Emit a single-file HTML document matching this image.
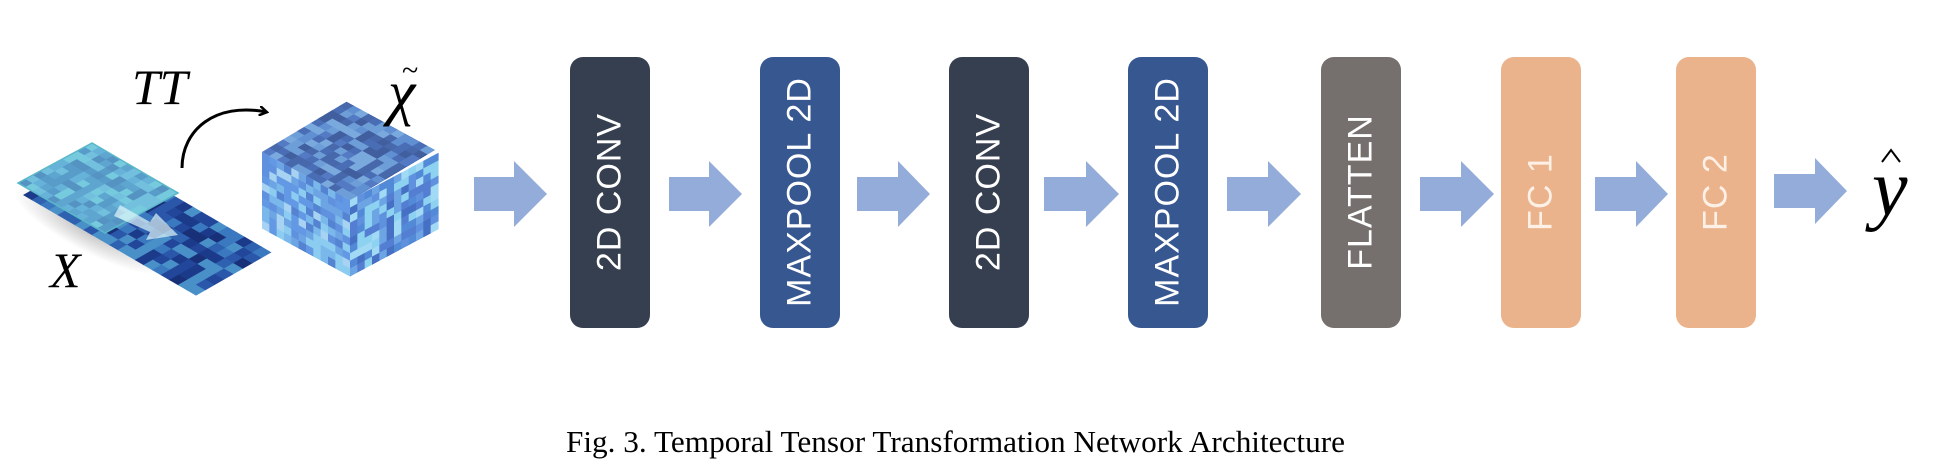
<!DOCTYPE html>
<html><head><meta charset="utf-8">
<style>
html,body{margin:0;padding:0;background:#fff;}
body{width:1948px;height:474px;position:relative;overflow:hidden;}
.box{position:absolute;top:57px;width:80px;height:271px;border-radius:13px;}
.lbl{position:absolute;left:40px;top:135px;transform:translate(-50%,-50%) rotate(-90deg);white-space:nowrap;font-family:"Liberation Sans",sans-serif;font-size:34px;color:#fff;letter-spacing:1px;}
</style></head>
<body>
<svg id="s" width="1948" height="474" style="position:absolute;left:0;top:0">
<defs>
<radialGradient id="sh" cx="0.5" cy="0.5" r="0.5"><stop offset="0" stop-color="#000" stop-opacity="0.25"/><stop offset="1" stop-color="#000" stop-opacity="0"/></radialGradient>
<marker id="ah" markerWidth="10" markerHeight="10" refX="7" refY="5" orient="auto" markerUnits="userSpaceOnUse"><path d="M0,0 L8,5 L0,10" fill="none" stroke="#000" stroke-width="2.5"/></marker>
</defs>
<ellipse cx="90" cy="230" rx="85" ry="22" fill="url(#sh)" transform="rotate(28 90 230)"/>
<g id="dark" transform="matrix(1.72,1.0,0.75,-0.43,23,195)"></g>
<g id="light" transform="matrix(0.85,0.5,0.74,-0.40,18,183)"></g>
<polygon points="18,183 92,143 178,193 105,233" fill="#9fe0ea" fill-opacity="0.35" stroke="#5ab8c8" stroke-width="1.5"/>
<polygon points="120,205 150,222 156,213 178,235 146,240 150,232 114,216" fill="#e0f6fa" fill-opacity="0.7"/>
<g id="ctop"></g>
<g id="cleft" transform="matrix(0.88,0.48,0,0.76,262,152)"></g>
<g id="cright" transform="matrix(0.88,-0.47,0,0.76,350,200)"></g>
<path d="M182,168 C182,130 215,102 266,112" fill="none" stroke="#000" stroke-width="3" marker-end="url(#ah)"/>
<text x="132" y="104" font-family="Liberation Serif,serif" font-style="italic" font-size="50">TT</text>
<text x="50" y="287" font-family="Liberation Serif,serif" font-style="italic" font-size="50">X</text>
<text x="388" y="113" font-family="Liberation Serif,serif" font-style="italic" font-size="62">χ</text>
<text x="402" y="80" font-family="Liberation Serif,serif" font-size="30">~</text>
<g fill="#94acda">
<polygon points="474,177 514,177 514,161 547,194 514,227 514,211 474,211"/>
<polygon points="669,177 709,177 709,161 742,194 709,227 709,211 669,211"/>
<polygon points="857,177 898,177 898,161 930,194 898,227 898,211 857,211"/>
<polygon points="1044,177 1086,177 1086,161 1119,194 1086,227 1086,211 1044,211"/>
<polygon points="1227,177 1268,177 1268,161 1301,194 1268,227 1268,211 1227,211"/>
<polygon points="1420,177 1461,177 1461,161 1494,194 1461,227 1461,211 1420,211"/>
<polygon points="1595,177 1636,177 1636,161 1668,194 1636,227 1636,211 1595,211"/>
<polygon points="1774,174 1815,174 1815,158 1847,191 1815,224 1815,208 1774,208"/>
</g>
<text x="1872" y="215" font-family="Liberation Serif,serif" font-style="italic" font-size="80">y</text>
<path d="M1882,162 L1891,150 L1900,162" fill="none" stroke="#000" stroke-width="2"/>
<text x="566" y="452" font-family="Liberation Serif,serif" font-size="31" textLength="779" lengthAdjust="spacingAndGlyphs">Fig. 3.  Temporal Tensor Transformation Network Architecture</text>
</svg>
<div class="box" style="left:570px;background:#363f50"><div class="lbl">2D CONV</div></div>
<div class="box" style="left:760px;background:#375791"><div class="lbl">MAXPOOL 2D</div></div>
<div class="box" style="left:949px;background:#363f50"><div class="lbl">2D CONV</div></div>
<div class="box" style="left:1128px;background:#375791"><div class="lbl">MAXPOOL 2D</div></div>
<div class="box" style="left:1321px;background:#75706e"><div class="lbl">FLATTEN</div></div>
<div class="box" style="left:1501px;background:#ebb38b"><div class="lbl" style="color:#fdf0e6">FC 1</div></div>
<div class="box" style="left:1676px;background:#ebb38b"><div class="lbl" style="color:#fdf0e6">FC 2</div></div>
<script>
var seed=7;function r(){seed=(seed*16807)%2147483647;return seed/2147483647;}
var NS="http://www.w3.org/2000/svg";
function fill(id,nx,ny,pal){var g=document.getElementById(id);
for(var i=0;i<nx;i++)for(var j=0;j<ny;j++){var e=document.createElementNS(NS,"rect");
e.setAttribute("x",i*100/nx);e.setAttribute("y",j*100/ny);e.setAttribute("width",100/nx+0.6);e.setAttribute("height",100/ny+0.6);
e.setAttribute("fill",pal[Math.floor(r()*pal.length)]);g.appendChild(e);}}
fill("dark",20,8,["#1c3a8a","#22469a","#2a57aa","#183078","#3a78bf","#2e62b0","#4a90c8"]);
fill("light",12,10,["#3d86c2","#4a9ad0","#5cb0d8","#3478b8","#2f6aae","#62bfd8"]);
fill("ctop",12,12,["#2d4f9c","#24428a","#3a64b8","#4a7fc8","#5a90d0","#2f56a8","#6a9ed8"]);
fill("cleft",12,10,["#4a80d8","#5a98e0","#6ab0e8","#3a70c8","#80c8f0","#4d8ae0","#a0d0f0"]);
fill("cright",12,10,["#3a6ac8","#4a80d8","#2a58b8","#5a98e0","#80d0f0","#3a78d0","#9ad8f4"]);
["ctop","cleft","cright"].forEach(function(id){var g=document.getElementById(id);
var e=document.createElementNS(NS,"rect");e.setAttribute("width",100);e.setAttribute("height",100);e.setAttribute("fill","#c8dcf8");e.setAttribute("fill-opacity","0.18");g.appendChild(e);});
document.getElementById("ctop").setAttribute("transform","matrix(0.88,0.48,0.84,-0.50,262,152)");
</script>
</body></html>
